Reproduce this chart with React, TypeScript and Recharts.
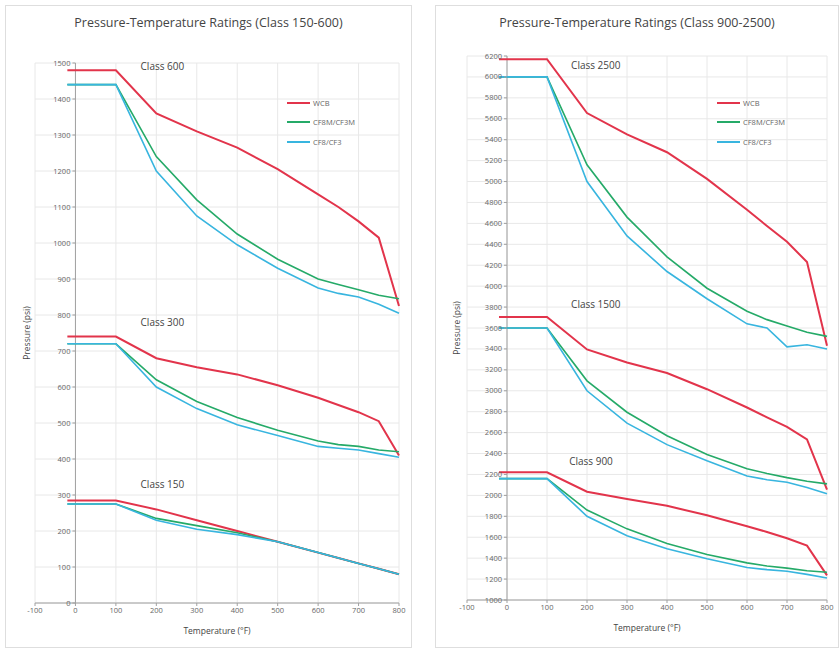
import React from 'react'
import { LineChart, Line, XAxis, YAxis, CartesianGrid, Legend, ReferenceLine, ReferenceDot } from 'recharts'

// ASME B16.34 style ratings, psi
const temperatures = [-20, 100, 200, 300, 400, 500, 600, 650, 700, 750, 800]
const tempTicks = [-100, 0, 100, 200, 300, 400, 500, 600, 700, 800]
const lowTicks = [0, 100, 200, 300, 400, 500, 600, 700, 800, 900, 1000, 1100, 1200, 1300, 1400, 1500]
const highTicks = [
  1000, 1200, 1400, 1600, 1800, 2000, 2200, 2400, 2600, 2800, 3000, 3200, 3400, 3600,
  3800, 4000, 4200, 4400, 4600, 4800, 5000, 5200, 5400, 5600, 5800, 6000, 6200,
]

const materials = ['WCB', 'CF8M/CF3M', 'CF8/CF3']

const wcb150 = [285, 285, 260, 230, 200, 170, 140, 125, 110, 95, 80]
const cf8m150 = [275, 275, 235, 215, 195, 170, 140, 125, 110, 95, 80]
const cf8150 = [275, 275, 230, 205, 190, 170, 140, 125, 110, 95, 80]
const wcb300 = [740, 740, 680, 655, 635, 605, 570, 550, 530, 505, 410]
const cf8m300 = [720, 720, 620, 560, 515, 480, 450, 440, 435, 425, 420]
const cf8300 = [720, 720, 600, 540, 495, 465, 435, 430, 425, 415, 405]
const wcb600 = [1480, 1480, 1360, 1310, 1265, 1205, 1135, 1100, 1060, 1015, 825]
const cf8m600 = [1440, 1440, 1240, 1120, 1025, 955, 900, 885, 870, 855, 845]
const cf8600 = [1440, 1440, 1200, 1075, 995, 930, 875, 860, 850, 830, 805]

const wcb900 = [2220, 2220, 2035, 1965, 1900, 1810, 1705, 1650, 1590, 1520, 1235]
const cf8m900 = [2160, 2160, 1860, 1680, 1540, 1435, 1355, 1325, 1305, 1280, 1265]
const cf8900 = [2160, 2160, 1800, 1615, 1490, 1395, 1310, 1290, 1275, 1245, 1210]
const wcb1500 = [3705, 3705, 3395, 3270, 3170, 3015, 2840, 2745, 2655, 2535, 2055]
const cf8m1500 = [3600, 3600, 3095, 2795, 2570, 2390, 2255, 2210, 2170, 2135, 2110]
const cf81500 = [3600, 3600, 3000, 2690, 2485, 2330, 2185, 2150, 2125, 2075, 2015]
const wcb2500 = [6170, 6170, 5655, 5450, 5280, 5025, 4730, 4575, 4425, 4230, 3430]
const cf8m2500 = [6000, 6000, 5160, 4660, 4280, 3980, 3760, 3680, 3620, 3560, 3520]
const cf82500 = [6000, 6000, 5000, 4480, 4140, 3880, 3640, 3600, 3420, 3440, 3400]

const colors = ['#e2344b', '#25aa68', '#38b5df']

const lowData = temperatures.map((t, i) => ({
  temp: t,
  wcb150: wcb150[i], cf8m150: cf8m150[i], cf8150: cf8150[i],
  wcb300: wcb300[i], cf8m300: cf8m300[i], cf8300: cf8300[i],
  wcb600: wcb600[i], cf8m600: cf8m600[i], cf8600: cf8600[i],
}))

const highData = temperatures.map((t, i) => ({
  temp: t,
  wcb900: wcb900[i], cf8m900: cf8m900[i], cf8900: cf8900[i],
  wcb1500: wcb1500[i], cf8m1500: cf8m1500[i], cf81500: cf81500[i],
  wcb2500: wcb2500[i], cf8m2500: cf8m2500[i], cf82500: cf82500[i],
}))

const FONT = '"Open Sans", "Liberation Sans", sans-serif'

const makeYTick = (shift: number) => (props: any) => {
  const { x, y, payload } = props
  return (
    <g>
      <line x1={x + shift - 3} x2={x + shift} y1={y} y2={y} stroke="#a0a0a0" />
      <text x={x + shift - 5} y={y} dy={2.5} textAnchor="end" fontSize={7.5} fill="#666" fontFamily={FONT}>
        {payload.value}
      </text>
    </g>
  )
}

// only one entry per material, in material order
const LegendBox = (props: any) => {
  const items = materials
    .map((m) => (props.payload || []).find((p: any) => p.value === m))
    .filter(Boolean)
  return (
    <div style={{ fontFamily: FONT }}>
      {items.map((p: any) => (
        <div key={p.value} style={{ display: 'flex', alignItems: 'center', height: 19.5 }}>
          <span style={{ width: 23, height: 2, background: p.color, display: 'inline-block', marginRight: 3 }} />
          <span style={{ fontSize: 7.5, color: '#666' }}>{p.value}</span>
        </div>
      ))}
    </div>
  )
}

interface PanelProps {
  left: number
  width: number
  title: string
  data: any[]
  classes: string[]
  yDomain: [number, number]
  yTicks: number[]
  margin: { top: number; right: number; bottom: number; left: number }
  axisWidth: number
  labels: { text: string; x: number; y: number }[]
}

const Panel: React.FC<PanelProps> = ({ left, width, title, data, classes, yDomain, yTicks, margin, axisWidth, labels }) => {
  const height = 643
  const plotWidth = width - margin.left - margin.right - axisWidth
  const shift = (plotWidth / 900) * 100
  return (
    <div style={{ position: 'absolute', left, top: 5, width, height }}>
      <div
        style={{
          position: 'absolute', top: 9, left: 0, width: '100%', textAlign: 'center',
          fontFamily: FONT, fontSize: 12.5, color: '#444',
        }}
      >
        {title}
      </div>
      <LineChart width={width} height={height} data={data} margin={margin}>
        <CartesianGrid stroke="#e8e8e8" />
        <XAxis
          type="number"
          dataKey="temp"
          domain={[-100, 800]}
          ticks={tempTicks}
          height={30}
          stroke="#a0a0a0"
          tickSize={3}
          tick={{ fontSize: 7.5, fill: '#666', fontFamily: FONT }}
          label={{ value: 'Temperature (°F)', position: 'insideBottom', offset: -1, fontSize: 8.5, fill: '#444', fontFamily: FONT }}
        />
        <YAxis
          type="number"
          domain={yDomain}
          ticks={yTicks}
          width={axisWidth}
          axisLine={false}
          tickLine={false}
          tickSize={0}
          tickMargin={0}
          interval={0}
          tick={makeYTick(shift)}
          label={{
            value: 'Pressure (psi)', angle: -90, position: 'insideLeft', offset: 22,
            style: { textAnchor: 'middle' }, fontSize: 8.5, fill: '#444', fontFamily: FONT,
          }}
        />
        <ReferenceLine x={0} stroke="#a0a0a0" />
        {classes.map((c) =>
          ['wcb', 'cf8m', 'cf8'].map((m, j) => (
            <Line
              key={m + c}
              dataKey={m + c}
              name={materials[j]}
              stroke={colors[j]}
              strokeWidth={j === 0 ? 2 : 1.6}
              dot={false}
              isAnimationActive={false}
            />
          ))
        )}
        {labels.map((l) => (
          <ReferenceDot
            key={l.text}
            x={l.x}
            y={l.y}
            r={0}
            fill="none"
            stroke="none"
            label={{ value: l.text, position: 'center', fontSize: 10, fill: '#444', fontFamily: FONT }}
          />
        ))}
        <Legend
          layout="vertical"
          align="center"
          verticalAlign="middle"
          content={<LegendBox />}
          wrapperStyle={{ top: 88, left: 282, width: 110 }}
        />
      </LineChart>
      <div style={{ position: 'absolute', inset: 0, border: '1px solid #dedede', pointerEvents: 'none' }} />
    </div>
  )
}

export default function App() {
  return (
    <div style={{ position: 'absolute', left: 0, top: 0, width: 839, height: 650, background: '#fff' }}>
      <Panel
        left={5}
        width={407}
        title="Pressure-Temperature Ratings (Class 150-600)"
        data={lowData}
        classes={['150', '300', '600']}
        yDomain={[0, 1500]}
        yTicks={lowTicks}
        axisWidth={30}
        margin={{ top: 58, right: 13, bottom: 15, left: 0 }}
        labels={[
          { text: 'Class 600', x: 215, y: 1490 },
          { text: 'Class 300', x: 215, y: 778 },
          { text: 'Class 150', x: 215, y: 328 },
        ]}
      />
      <Panel
        left={435}
        width={404}
        title="Pressure-Temperature Ratings (Class 900-2500)"
        data={highData}
        classes={['900', '1500', '2500']}
        yDomain={[1000, 6200]}
        yTicks={highTicks}
        axisWidth={32}
        margin={{ top: 51, right: 12, bottom: 18, left: 0 }}
        labels={[
          { text: 'Class 2500', x: 222, y: 6114 },
          { text: 'Class 1500', x: 222, y: 3827 },
          { text: 'Class 900', x: 210, y: 2325 },
        ]}
      />
    </div>
  )
}
